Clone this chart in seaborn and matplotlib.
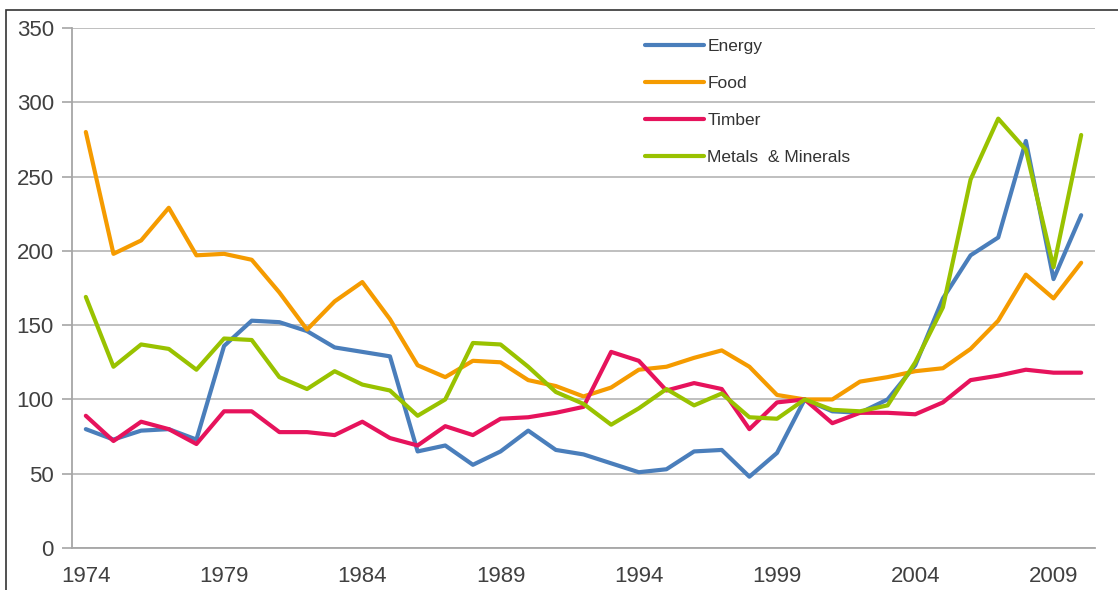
import pandas as pd
import seaborn as sns
import matplotlib.pyplot as plt
from matplotlib.patches import Rectangle

years = list(range(1974, 2011))
energy = [80, 73, 79, 80, 73, 136, 153, 152, 146, 135, 132, 129,
          65, 69, 56, 65, 79, 66, 63, 57, 51, 53, 65, 66, 48,
          64, 100, 92, 91, 100, 123, 168, 197, 209, 274, 181, 224]
food = [280, 198, 207, 229, 197, 198, 194, 172, 147, 166, 179, 154,
        123, 115, 126, 125, 113, 109, 102, 108, 120, 122, 128, 133, 122,
        103, 100, 100, 112, 115, 119, 121, 134, 153, 184, 168, 192]
timber = [89, 72, 85, 80, 70, 92, 92, 78, 78, 76, 85, 74,
          69, 82, 76, 87, 88, 91, 95, 132, 126, 106, 111, 107, 80,
          98, 100, 84, 91, 91, 90, 98, 113, 116, 120, 118, 118]
metals = [169, 122, 137, 134, 120, 141, 140, 115, 107, 119, 110, 106,
          89, 100, 138, 137, 122, 105, 97, 83, 94, 107, 96, 104, 88,
          87, 100, 93, 92, 96, 125, 162, 248, 289, 268, 189, 278]

series = {"Energy": energy, "Food": food, "Timber": timber,
          "Metals  & Minerals": metals}
colors = ["#4A7EBB", "#F59B00", "#E6135C", "#99C200"]

df = pd.concat([pd.DataFrame({"year": years, "value": v, "series": k})
                for k, v in series.items()])

sns.set_style("white")
plt.rcParams['font.family'] = ['Liberation Sans', 'DejaVu Sans']

fig = plt.figure(figsize=(11.18, 5.9), dpi=100)
ax = fig.add_axes([72 / 1118, 1 - 548 / 590, (1095 - 72) / 1118, (548 - 28) / 590])

sns.lineplot(data=df, x="year", y="value", hue="series", palette=colors,
             linewidth=3, ax=ax)

ax.set_xlim(1973.5, 2010.5)
ax.set_ylim(0, 350)
ax.set_yticks(range(0, 351, 50))
ax.set_xticks(range(1974, 2010, 5))
ax.set_xticks([1973.5 + 5 * k for k in range(8)], minor=True)
ax.tick_params(axis='x', which='major', length=0, pad=13, labelsize=16, labelcolor='#404040')
ax.tick_params(axis='x', which='minor', length=7, width=1.2, color='#A6A6A6', direction='out')
ax.tick_params(axis='y', length=7, width=1.2, color='#A6A6A6', pad=6, labelsize=16,
               labelcolor='#404040', left=True)
ax.set_xlabel('')
ax.set_ylabel('')
ax.grid(True, axis='y', color='#BFBFBF', linewidth=1.4)
ax.set_axisbelow(True)
for s in ['top', 'right']:
    ax.spines[s].set_visible(False)
for s in ['left', 'bottom']:
    ax.spines[s].set_color('#A6A6A6')
    ax.spines[s].set_linewidth(1.3)

leg = ax.legend(loc='upper left', bbox_to_anchor=(645 / 1118, 1 - 39 / 590),
                bbox_transform=fig.transFigure, frameon=False, fontsize=12.5,
                handlelength=3.4, handletextpad=0.2, labelspacing=1.25,
                borderpad=0, borderaxespad=0)
for t in leg.get_texts():
    t.set_color('#333333')

fig.patches.append(Rectangle((6 / 1118, -0.1), 1.2, 1.1 - 10 / 590,
                             transform=fig.transFigure, fill=False,
                             edgecolor='#333333', linewidth=1.2))

fig.savefig("out.png", dpi=100)
